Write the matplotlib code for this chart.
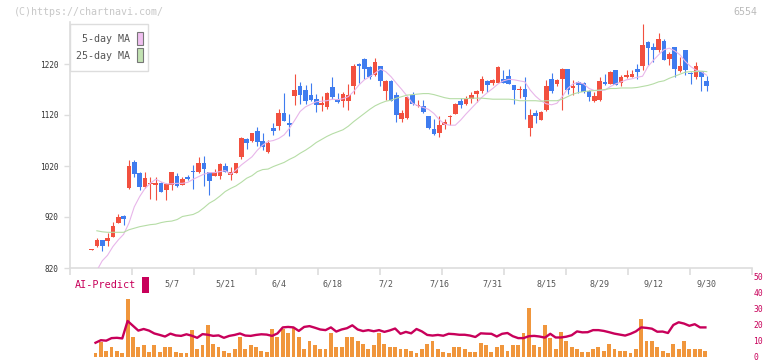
import numpy as np
import matplotlib
matplotlib.use("Agg")
import matplotlib.pyplot as plt
from matplotlib.patches import Rectangle

# daily candles, oldest first
opens = [856, 863, 874, 873, 881, 909, 922, 977, 1028, 1006, 978, 984, 983, 987, 973, 983, 1000, 983, 999, 1010,
         1008, 1025, 1008, 1001, 1001, 1020, 1003, 1007, 1038, 1073, 1070, 1089, 1069, 1048, 1094, 1098, 1123, 1104, 1157, 1177,
         1169, 1159, 1151, 1140, 1136, 1174, 1151, 1148, 1148, 1176, 1220, 1229, 1215, 1198, 1216, 1168, 1187, 1159, 1112, 1115,
         1159, 1138, 1138, 1118, 1093, 1085, 1100, 1117, 1122, 1148, 1142, 1152, 1162, 1168, 1187, 1183, 1183, 1191, 1197, 1178,
         1170, 1171, 1095, 1123, 1111, 1129, 1191, 1181, 1191, 1210, 1172, 1185, 1183, 1168, 1147, 1149, 1185, 1181, 1208, 1183,
         1194, 1194, 1210, 1216, 1263, 1254, 1248, 1265, 1230, 1253, 1207, 1248, 1201, 1195, 1206, 1187]
highs = [858, 878, 875, 888, 911, 926, 923, 1032, 1031, 1009, 1008, 998, 999, 988, 986, 1009, 1006, 999, 1003, 1022,
         1038, 1040, 1009, 1015, 1025, 1025, 1019, 1026, 1076, 1074, 1085, 1096, 1084, 1071, 1104, 1131, 1164, 1121, 1200, 1185,
         1179, 1183, 1161, 1157, 1166, 1195, 1164, 1166, 1181, 1220, 1221, 1232, 1216, 1232, 1216, 1188, 1188, 1166, 1130, 1157,
         1165, 1149, 1149, 1119, 1113, 1119, 1113, 1120, 1143, 1153, 1157, 1165, 1169, 1197, 1188, 1190, 1216, 1208, 1210, 1179,
         1176, 1195, 1131, 1130, 1127, 1189, 1203, 1191, 1213, 1211, 1189, 1186, 1185, 1169, 1165, 1195, 1200, 1207, 1209, 1198,
         1208, 1208, 1220, 1298, 1266, 1261, 1280, 1269, 1244, 1254, 1233, 1248, 1205, 1224, 1207, 1197]
lows = [855, 862, 854, 864, 880, 908, 904, 974, 998, 972, 977, 955, 953, 970, 953, 972, 979, 982, 993, 974,
        1007, 980, 964, 1000, 995, 1008, 993, 1006, 1034, 1054, 1068, 1060, 1051, 1045, 1081, 1091, 1108, 1078, 1140, 1142,
        1142, 1148, 1125, 1127, 1131, 1151, 1143, 1135, 1130, 1162, 1182, 1191, 1191, 1197, 1176, 1150, 1147, 1107, 1107, 1113,
        1140, 1136, 1124, 1092, 1081, 1076, 1093, 1100, 1121, 1134, 1140, 1144, 1146, 1163, 1166, 1178, 1182, 1182, 1180, 1142,
        1153, 1112, 1078, 1105, 1110, 1127, 1164, 1176, 1130, 1161, 1159, 1163, 1164, 1148, 1145, 1148, 1178, 1180, 1178, 1176,
        1193, 1194, 1191, 1208, 1219, 1224, 1244, 1227, 1219, 1195, 1205, 1198, 1181, 1190, 1168, 1168]
closes = [857, 874, 863, 879, 902, 920, 917, 1020, 1004, 978, 996, 986, 987, 970, 985, 1008, 980, 994, 995, 1009,
          1025, 1014, 991, 1008, 1024, 1009, 1008, 1025, 1074, 1066, 1084, 1068, 1058, 1065, 1089, 1123, 1109, 1100, 1170, 1159,
          1148, 1149, 1140, 1143, 1164, 1156, 1146, 1161, 1159, 1216, 1217, 1211, 1194, 1224, 1187, 1187, 1148, 1120, 1123, 1155,
          1142, 1140, 1125, 1095, 1082, 1100, 1106, 1119, 1142, 1140, 1152, 1159, 1168, 1190, 1178, 1189, 1214, 1183, 1181, 1169,
          1171, 1156, 1120, 1119, 1126, 1177, 1168, 1189, 1210, 1169, 1176, 1179, 1166, 1156, 1157, 1187, 1180, 1204, 1179, 1194,
          1198, 1200, 1205, 1257, 1252, 1248, 1269, 1228, 1240, 1211, 1217, 1208, 1200, 1216, 1195, 1176]

# moving averages, volume and AI-Predict start from the second candle
ma5 = [815, 834, 845, 862, 875, 886, 908, 940, 960, 976, 986, 994, 989, 985, 985, 986, 986, 988, 994, 999,
       1004, 1007, 1007, 1009, 1011, 1004, 1012, 1022, 1030, 1038, 1051, 1061, 1068, 1070, 1074, 1081, 1094, 1110, 1127, 1136,
       1141, 1146, 1147, 1148, 1151, 1150, 1152, 1156, 1166, 1179, 1189, 1195, 1202, 1210, 1205, 1195, 1182, 1170, 1157, 1143,
       1138, 1135, 1131, 1123, 1111, 1102, 1100, 1100, 1110, 1122, 1133, 1144, 1155, 1164, 1172, 1181, 1187, 1190, 1189, 1187,
       1185, 1169, 1157, 1148, 1142, 1140, 1143, 1156, 1172, 1181, 1184, 1181, 1172, 1168, 1168, 1169, 1176, 1181, 1185, 1189,
       1191, 1194, 1196, 1215, 1227, 1238, 1248, 1251, 1246, 1238, 1225, 1215, 1208, 1205, 1198]
ma25 = [893, 891, 890, 890, 890, 890, 895, 898, 901, 903, 905, 906, 909, 911, 912, 915, 921, 923, 925, 930,
        938, 947, 953, 961, 970, 976, 981, 988, 996, 1001, 1009, 1013, 1014, 1019, 1023, 1027, 1033, 1038, 1045, 1051,
        1058, 1066, 1072, 1078, 1083, 1087, 1091, 1098, 1107, 1115, 1123, 1131, 1138, 1143, 1147, 1149, 1153, 1156, 1159, 1160,
        1161, 1162, 1162, 1160, 1157, 1154, 1152, 1152, 1152, 1152, 1153, 1153, 1153, 1152, 1151, 1151, 1151, 1151, 1150, 1148,
        1148, 1148, 1148, 1147, 1148, 1148, 1148, 1151, 1156, 1161, 1164, 1166, 1167, 1168, 1169, 1170, 1172, 1172, 1173, 1173,
        1173, 1174, 1176, 1178, 1181, 1185, 1187, 1192, 1196, 1200, 1204, 1205, 1205, 1206, 1205]
volume = [2.2, 9.5, 4, 6.5, 4, 2.8, 36, 12.2, 6.5, 7.8, 3.4, 7.2, 3.4, 6, 6.5, 3.4, 2.8, 2.4, 16.6, 4.7,
          7.8, 19.7, 8.4, 6, 4, 2.8, 4.7, 12.8, 4.7, 7.2, 6.5, 4, 3.4, 17.2, 12.8, 17.2, 14.7, 18.4, 12.2, 5.3,
          9.7, 7.8, 4.7, 5.3, 14.7, 6.5, 6, 12.2, 12.8, 9.7, 8.4, 5.3, 7.2, 14.7, 8.4, 6, 6.5, 5.3, 5.3, 4,
          2.8, 5.3, 8.4, 9.7, 5.3, 3.4, 2.2, 6.5, 6.5, 5.3, 3.4, 3.4, 9, 7.2, 3.4, 6, 7.2, 4, 7.8, 7.8,
          14.7, 30.9, 7.2, 6, 20.3, 11.6, 4.7, 15.9, 9.7, 6, 5.3, 3.4, 3.4, 4.7, 6.5, 4, 8.4, 4.7, 4, 4,
          2.8, 5.3, 24, 9.7, 9.7, 6.5, 4, 2.8, 8.4, 5.3, 10.3, 5.3, 5.3, 4.7, 4]
ai_predict = [8.9, 10.5, 10.2, 11.8, 12.0, 11.6, 22.5, 19.5, 16.5, 17.5, 16.5, 14.7, 13.8, 12.8, 14.6, 13.5, 13.2, 14.2, 13.3, 12.0,
              14.3, 13.9, 13.2, 13.5, 12.0, 13.2, 13.8, 14.7, 13.4, 13.2, 13.8, 14.2, 14.0, 13.2, 14.7, 18.5, 18.8, 18.5, 16.3, 18.8,
              19.3, 18.3, 17.2, 16.8, 18.5, 15.9, 17.2, 18.0, 19.8, 17.2, 16.2, 16.8, 16.1, 16.8, 15.7, 16.6, 17.8, 14.5, 15.7, 14.8,
              17.5, 16.0, 13.8, 13.4, 13.8, 13.3, 14.5, 14.3, 13.9, 13.9, 13.4, 12.5, 14.8, 14.6, 14.5, 12.8, 14.5, 15.0, 13.0, 11.8,
              11.8, 13.0, 13.2, 12.8, 12.1, 14.5, 12.2, 12.2, 12.7, 13.6, 16.0, 15.4, 15.5, 16.8, 16.8, 16.3, 15.5, 14.6, 14.0, 13.4,
              14.5, 16.0, 18.5, 18.2, 17.7, 15.8, 15.9, 15.0, 20.0, 21.7, 20.9, 19.5, 20.5, 18.5, 18.5]
date_labels = ["5/7", "5/21", "6/4", "6/18", "7/2", "7/16", "7/31", "8/15", "8/29", "9/12", "9/30"]

W, H = 772, 361
def fx(x):
    return x / W
def fy(y):
    return 1 - y / H

red = "#F2503F"
blue = "#3F7CEF"
mag = "#C8005A"
mono = "DejaVu Sans Mono"

fig = plt.figure(figsize=(W / 100, H / 100), dpi=100)

# volume / AI-Predict panel (drawn first, transparent, so the date labels stay visible)
ax2 = fig.add_axes([fx(70), fy(357), 682 / W, 80 / H])
ax2.patch.set_visible(False)

ax = fig.add_axes([fx(70), fy(268), 682 / W, 246 / H])

n = len(closes)
idx = np.arange(n)
x0, x1 = (70 - 91.5) / 5.35, (752 - 91.5) / 5.35

for i in idx:
    c = red if closes[i] >= opens[i] else blue
    ax.vlines(i, lows[i], highs[i], color=c, lw=0.8, zorder=2)
    lo = min(opens[i], closes[i])
    h = max(abs(closes[i] - opens[i]), 1.6)
    ax.bar(i, h, bottom=lo, width=0.86, color=c, lw=0, zorder=3)

ax.plot(idx[1:], ma5, color="#E8B6EA", lw=0.8, zorder=4)
ax.plot(idx[1:], ma25, color="#B6DDA6", lw=0.8, zorder=4)

ax.set_xlim(x0, x1)
ax.set_ylim(820, 820 + 246 * 100 / 51)
for s in ["top", "right"]:
    ax.spines[s].set_visible(False)
for s in ["left", "bottom"]:
    ax.spines[s].set_color("#DDDDDD")
    ax.spines[s].set_linewidth(1.2)

ax.set_yticks([820, 920, 1020, 1120, 1220])
ax.tick_params(axis="y", length=4, width=1, color="#DDDDDD", pad=4.5,
               labelsize=5.6, labelcolor="#333333")
for t in ax.get_yticklabels():
    t.set_family(mono)

ax.set_xticks(np.linspace(x0, x1, 12))
ax.set_xticklabels([])
ax.tick_params(axis="x", which="major", length=5, width=1.2, color="#DDDDDD")
ax.set_xticks(range(15, n, 10), minor=True)
ax.set_xticklabels(date_labels, minor=True, family=mono)
ax.tick_params(axis="x", which="minor", length=0, pad=8, labelsize=6, labelcolor="#555555")

# legend box
fig.add_artist(Rectangle((fx(70), fy(71)), 78 / W, 47 / H, transform=fig.transFigure,
                         facecolor="white", edgecolor="#DDDDDD", lw=1, zorder=10))
fig.text(fx(130), fy(39), "5-day MA", ha="right", va="center", fontsize=7.2,
         family=mono, color="#555555", zorder=11)
fig.text(fx(130), fy(56), "25-day MA", ha="right", va="center", fontsize=7.2,
         family=mono, color="#555555", zorder=11)
fig.add_artist(Rectangle((fx(137), fy(45)), 6 / W, 13 / H, transform=fig.transFigure,
                         facecolor="#F0C0F0", edgecolor="#777777", lw=0.8, zorder=11))
fig.add_artist(Rectangle((fx(137), fy(62)), 6 / W, 14 / H, transform=fig.transFigure,
                         facecolor="#C2E2B2", edgecolor="#777777", lw=0.8, zorder=11))

fig.text(fx(14), fy(12), "(C)https://chartnavi.com/", ha="left", va="center",
         fontsize=7.2, family=mono, color="#C8C8C8")
fig.text(fx(757), fy(12), "6554", ha="right", va="center",
         fontsize=7.2, family=mono, color="#BBBBBB")

ax2.bar(idx[1:] - 0.25, volume, width=0.72, color="#F0963C", lw=0, zorder=2)
ax2.plot(idx[1:] - 0.25, ai_predict, color=mag, lw=1.7, zorder=3)
ax2.set_xlim(x0, x1)
ax2.set_ylim(0, 50)
for s in ax2.spines.values():
    s.set_visible(False)
ax2.set_xticks([])
ax2.yaxis.tick_right()
ax2.set_yticks([0, 10, 20, 30, 40, 50])
ax2.tick_params(axis="y", length=0, pad=1, labelsize=5.8, labelcolor=mag)
for t in ax2.get_yticklabels():
    t.set_family(mono)

fig.text(fx(75), fy(285), "AI-Predict", ha="left", va="center", fontsize=7.3,
         family=mono, color=mag)
fig.add_artist(Rectangle((fx(142), fy(293)), 7 / W, 16 / H, transform=fig.transFigure,
                         facecolor=mag, edgecolor="none"))

fig.savefig("out.png", dpi=100)
